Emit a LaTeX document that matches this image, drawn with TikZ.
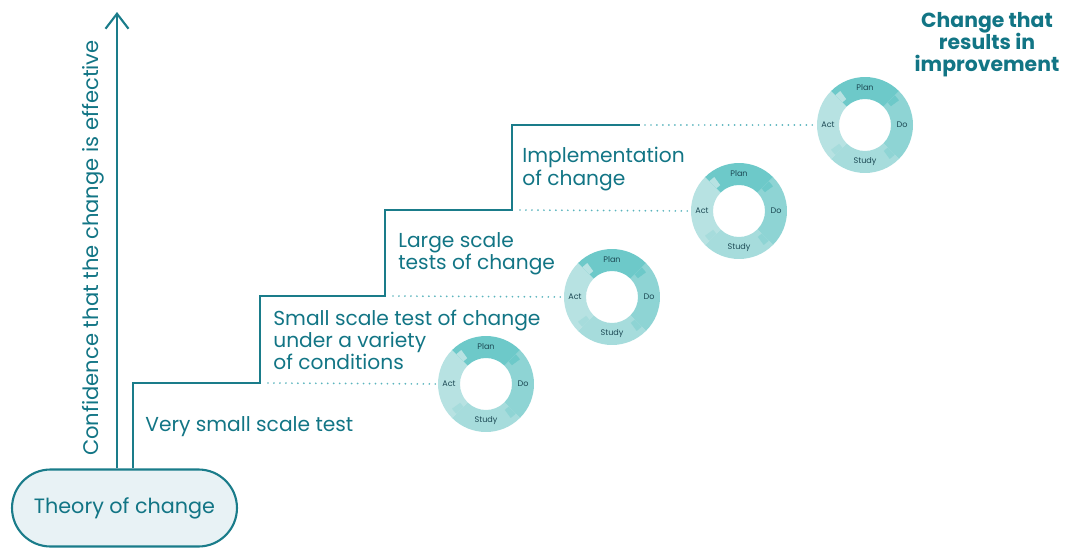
\documentclass[tikz,border=0pt]{standalone}
\usepackage{fontspec}
\setmainfont{Poppins}
\usetikzlibrary{arrows.meta,calc}

\definecolor{tealline}{HTML}{1A7C8A}
\definecolor{tealtext}{HTML}{127585}
\definecolor{dotcol}{HTML}{5BB4BD}
\definecolor{boxfill}{HTML}{E8F2F5}
\definecolor{plancol}{HTML}{6DC9C9}
\definecolor{docol}{HTML}{8ED4D4}
\definecolor{studycol}{HTML}{A6DCDC}
\definecolor{actcol}{HTML}{B7E2E2}
\definecolor{ringtext}{HTML}{1D4A55}

\begin{document}
\begin{tikzpicture}[x=0.02cm, y=0.02cm,
        stair/.style={line width=1.2pt, draw=tealline},
        stage_label/.style={anchor=west, align=left, inner sep=0pt, text=tealtext, font=\fontsize{11.5}{12.6}\selectfont},
        dot_line/.style={draw=dotcol, line width=1.1pt, line cap=round, dash pattern=on 0pt off 3.4pt},
        pdsa/.style={circle, minimum size=1.92cm, inner sep=0pt},
        ring_label/.style={font=\fontsize{4.6}{5}\selectfont, text=ringtext}
    ]
        \useasboundingbox (0,0) rectangle (1072,549);

        % Start box
        \node[draw=tealline, line width=1.2pt, fill=boxfill, rounded corners=0.77cm,
              minimum width=4.5cm, minimum height=1.54cm, text=tealtext,
              font=\fontsize{11.8}{13}\selectfont] (theory) at (124.5,41) {Theory of change};

        % Axis
        \coordinate (axis_top) at (117,537);
        \draw[stair, -{Straight Barb[length=0.3cm, width=0.46cm, line width=1.2pt]}] (theory.north -| axis_top) -- (axis_top);
        \node[rotate=90, text=tealtext, font=\fontsize{12}{13}\selectfont] (axis_label) at (93,301)
            {Confidence that the change is effective};

        % Staircase
        \coordinate (s0) at (133,166);
        \coordinate (s1) at (260,253);
        \coordinate (s2) at (385,339);
        \coordinate (s3) at (512,424);
        \coordinate (s4) at (640,424);
        \draw[stair] (theory.north -| s0) -- (s0) -| (s1) -| (s2) -| (s3) -- (s4);

        % Cycles
        \node[pdsa] (cyc1) at (486,165) {};
        \node[pdsa] (cyc2) at (612,252) {};
        \node[pdsa] (cyc3) at (739,338) {};
        \node[pdsa] (cyc4) at (865,424) {};
        \foreach \i in {1,...,4} {
            \foreach \a/\b/\col in {135/225/actcol, 225/315/studycol, -45/45/docol, 45/135/plancol}
                \fill[\col] ($(cyc\i)+(\a:0.96cm)$) arc[start angle=\a, end angle=\b, radius=0.96cm]
                    -- ($(cyc\i)+(\b:0.52cm)$) arc[start angle=\b, end angle=\a, radius=0.52cm] -- cycle;
            \foreach \a/\col in {135/actcol, 225/studycol, -45/docol, 45/plancol}
                \fill[\col] ($(cyc\i)+(\a:0.84cm)$) arc[start angle=\a, end angle=\a-9, radius=0.84cm]
                    -- ($(cyc\i)+(\a-9:0.64cm)$) arc[start angle=\a-9, end angle=\a, radius=0.64cm] -- cycle;
            \node[ring_label] (plan\i) at ($(cyc\i)+(90:0.74cm)$) {Plan};
            \node[ring_label] (do\i) at ($(cyc\i)+(0:0.74cm)$) {Do};
            \node[ring_label] (study\i) at ($(cyc\i)+(270:0.74cm)$) {Study};
            \node[ring_label] (act\i) at ($(cyc\i)+(180:0.74cm)$) {Act};
        }

        % Dotted links to cycles
        \draw[dot_line] ($(s0)+(135,0)$) -- (cyc1.west);
        \draw[dot_line] ($(s1)+(133,0)$) -- (cyc2.west);
        \draw[dot_line] ($(s2)+(135,0)$) -- (cyc3.west);
        \draw[dot_line] ($(s4)+(5,0)$) -- (cyc4.west);

        % Stage labels
        \node[stage_label] (stage0) at (145,122) {Very small scale test};
        \node[stage_label] (stage1) at (273,209) {Small scale test of change\\under a variety\\of conditions};
        \node[stage_label] (stage2) at (398,295) {Large scale\\tests of change};
        \node[stage_label] (stage3) at (522,380) {Implementation\\of change};

        \node[align=center, text=tealtext, font=\bfseries\fontsize{11.6}{12.5}\selectfont] (result) at (987,504)
            {Change that\\results in\\improvement};

    \end{tikzpicture}
\end{document}
